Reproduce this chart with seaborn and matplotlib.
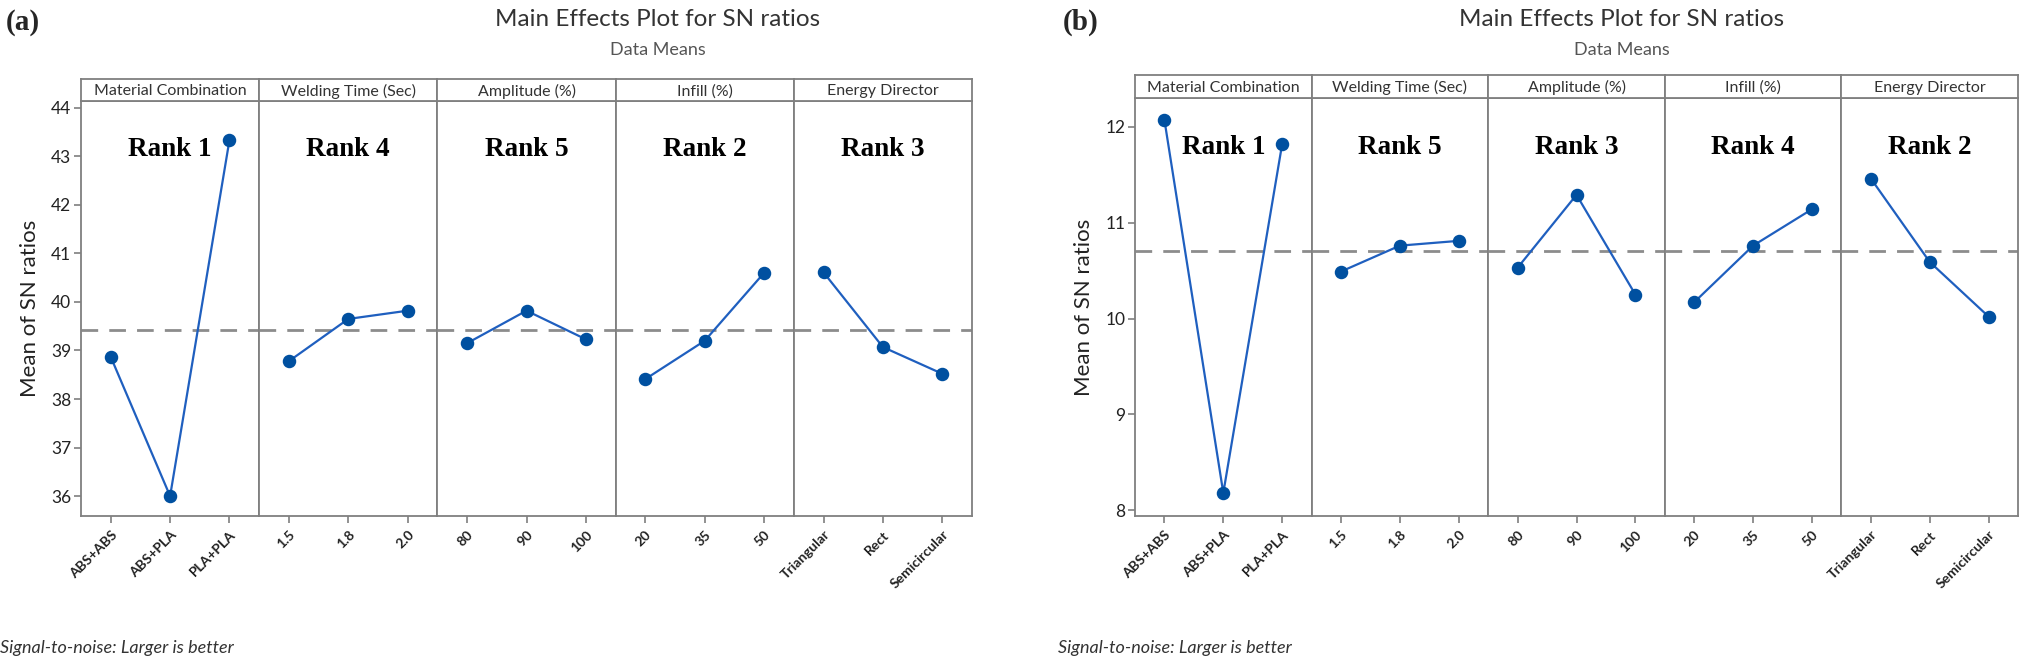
import matplotlib
matplotlib.use("Agg")
import matplotlib.pyplot as plt
import seaborn as sns
import pandas as pd

# ---------------- data ----------------
factors = ["Material Combination", "Welding Time (Sec)", "Amplitude (%)", "Infill (%)", "Energy Director"]
level_material = ["ABS+ABS", "ABS+PLA", "PLA+PLA"]
level_welding = ["1.5", "1.8", "2.0"]
level_amplitude = ["80", "90", "100"]
level_infill = ["20", "35", "50"]
level_energy = ["Triangular", "Rect", "Semicircular"]
levels = [level_material, level_welding, level_amplitude, level_infill, level_energy]

# (a)
sn_a_material = [38.87, 36.00, 43.34]
sn_a_welding = [38.78, 39.65, 39.82]
sn_a_amplitude = [39.15, 39.82, 39.23]
sn_a_infill = [38.41, 39.20, 40.60]
sn_a_energy = [40.61, 39.07, 38.52]
mean_a = 39.42
rank_a = ["Rank 1", "Rank 4", "Rank 5", "Rank 2", "Rank 3"]
yticks_a = [36, 37, 38, 39, 40, 41, 42, 43, 44]

# (b)
sn_b_material = [12.07, 8.18, 11.82]
sn_b_welding = [10.49, 10.76, 10.81]
sn_b_amplitude = [10.53, 11.29, 10.25]
sn_b_infill = [10.17, 10.76, 11.14]
sn_b_energy = [11.46, 10.59, 10.02]
mean_b = 10.70
rank_b = ["Rank 1", "Rank 5", "Rank 3", "Rank 4", "Rank 2"]
yticks_b = [8, 9, 10, 11, 12]

# ---------------- style ----------------
sns.set_theme(style="white")
plt.rcParams["font.family"] = ["Lato", "DejaVu Sans"]

W, H = 2032, 666
fig = plt.figure(figsize=(W / 100, H / 100), dpi=100)

GREY = "#7f7f7f"
BLUE_M = "#0050a0"
BLUE_L = "#1f5fbf"


def draw(series, mean, ranks, yticks, ylim, x0px, x1px, top_px, strip_top_px, bottom_px,
         label, label_x, title_x, foot_x):
    n = len(series)
    w = (x1px - x0px) / n
    y0 = 1 - bottom_px / H
    h = (bottom_px - top_px) / H
    sh = (top_px - strip_top_px) / H
    for i in range(n):
        ax = fig.add_axes([(x0px + i * w) / W, y0, w / W, h])
        df = pd.DataFrame({"level": levels[i], "sn": series[i]})
        ax.axhline(mean, color="#8c8c8c", lw=2.0, dashes=(6, 4), zorder=1)
        sns.pointplot(data=df, x="level", y="sn", ax=ax, color=BLUE_L,
                      markers="o", linestyles="-", errorbar=None,
                      markersize=8.5, linewidth=1.6, zorder=3)
        for ln in ax.lines:
            ln.set_markerfacecolor(BLUE_M)
            ln.set_markeredgecolor(BLUE_M)
        ax.set_xlim(-0.5, 2.5)
        ax.set_ylim(*ylim)
        ax.set_xlabel("")
        ax.set_ylabel("")
        for s in ax.spines.values():
            s.set_color(GREY)
            s.set_linewidth(1.3)
            s.set_visible(True)
        ax.tick_params(axis="x", which="both", bottom=True, length=5, width=1.2,
                       color=GREY, pad=4, labelsize=10)
        for t in ax.get_xticklabels():
            t.set_rotation(45)
            t.set_ha("right")
            t.set_rotation_mode("anchor")
            t.set_fontweight("bold")
            t.set_color("#222222")
        ax.set_yticks(yticks)
        if i == 0:
            ax.tick_params(axis="y", left=True, length=5, width=1.2, color=GREY,
                           labelsize=12.5, pad=2)
            for t in ax.get_yticklabels():
                t.set_color("#222222")
            ax.set_ylabel("Mean of SN ratios", fontsize=16, color="#222222", labelpad=8)
        else:
            ax.tick_params(axis="y", left=False, labelleft=False)
        ax.text(0.5, 0.882, ranks[i], transform=ax.transAxes, ha="center", va="center",
                fontfamily="Liberation Serif", fontweight="bold", fontsize=19.5, color="black")
        # strip
        sax = fig.add_axes([(x0px + i * w) / W, y0 + h, w / W, sh])
        sax.set_xticks([])
        sax.set_yticks([])
        for s in sax.spines.values():
            s.set_color(GREY)
            s.set_linewidth(1.3)
        sax.text(0.5, 0.45, factors[i], transform=sax.transAxes, ha="center", va="center",
                 fontsize=11.5, color="#333333")
    fig.text(label_x / W, 1 - 22 / H, label, fontfamily="Liberation Serif",
             fontweight="bold", fontsize=21, ha="left", va="center")
    fig.text(title_x / W, 1 - 20 / H, "Main Effects Plot for SN ratios", fontsize=17.5,
             ha="center", va="center", color="#333333")
    fig.text(title_x / W, 1 - 50 / H, "Data Means", fontsize=13, ha="center", va="center",
             color="#555555")
    fig.text(foot_x / W, 1 - 648 / H, "Signal-to-noise: Larger is better", fontsize=13,
             style="italic", ha="left", va="center", color="#333333")


draw([sn_a_material, sn_a_welding, sn_a_amplitude, sn_a_infill, sn_a_energy],
     mean_a, rank_a, yticks_a, (35.59, 44.14), 81, 972, 101, 79, 516,
     "(a)", 6, 658, 0)
draw([sn_b_material, sn_b_welding, sn_b_amplitude, sn_b_infill, sn_b_energy],
     mean_b, rank_b, yticks_b, (7.94, 12.30), 1135, 2018, 98, 75, 516,
     "(b)", 1063, 1622, 1058)

fig.savefig("out.png", dpi=100)
